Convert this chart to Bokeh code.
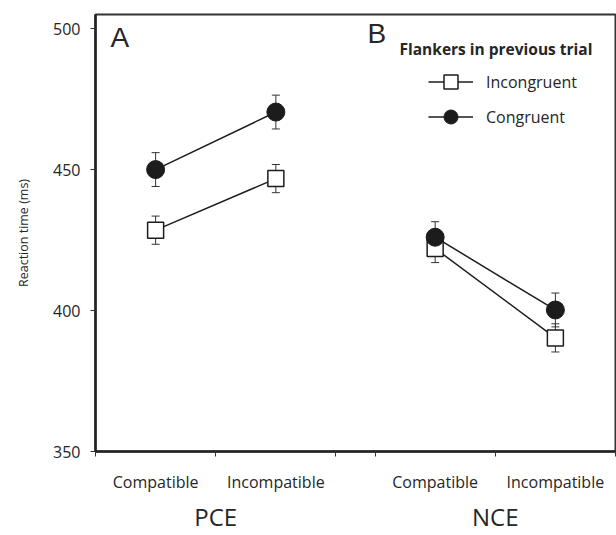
from bokeh.plotting import figure
from bokeh.models import (Range1d, LinearAxis, FixedTicker, Whisker, ColumnDataSource,
                          Legend, LegendItem, Label, TeeHead)
from bokeh.embed import file_html
from bokeh.resources import INLINE

# ---- data ----
groups = ["PCE", "NCE"]
conditions = ["Compatible", "Incompatible"]
incong_rt = [428.5, 446.8, 422.0, 390.3]
incong_se = [5.0, 5.0, 5.0, 5.0]
cong_rt = [450.0, 470.4, 426.0, 400.2]
cong_se = [6.0, 6.0, 5.5, 6.0]
y_ticks = [350, 400, 450, 500]
series_names = ["Incongruent", "Congruent"]

# ---- layout helpers ----
GAP = 0.325
n_c = len(conditions)
def xpos(g, c):
    return g * (n_c + GAP) + c + 0.5

xs = [xpos(g, c) for g in range(len(groups)) for c in range(n_c)]
bounds = []
for g in range(len(groups)):
    start = g * (n_c + GAP)
    bounds += [start + k for k in range(n_c + 1)]
group_centers = [g * (n_c + GAP) + n_c / 2 for g in range(len(groups))]
x_end = len(groups) * n_c + (len(groups) - 1) * GAP

FONT = "Open Sans"
TXT = "#262626"
INK = "#1c1c1c"

p = figure(width=616, height=535, x_range=Range1d(0, x_end), y_range=Range1d(350, 505),
           x_axis_type=None, y_axis_type=None, output_backend="svg", toolbar_location=None,
           min_border_left=95, min_border_top=14, min_border_right=1, min_border_bottom=82)
p.outline_line_color = "#333333"
p.outline_line_width = 2
p.background_fill_color = "white"
p.border_fill_color = "white"

# y axis
yax = LinearAxis(ticker=FixedTicker(ticks=y_ticks), axis_label="Reaction time (ms)")
yax.axis_line_width = 2.5
yax.axis_line_color = "#222222"
yax.major_tick_out = 5
yax.major_tick_in = 0
yax.major_tick_line_color = "#333333"
yax.minor_tick_line_color = None
yax.major_label_text_font = FONT
yax.major_label_text_font_size = "16px"
yax.major_label_text_color = TXT
yax.major_label_standoff = 10
yax.axis_label_text_font = FONT
yax.axis_label_text_font_size = "12.5px"
yax.axis_label_text_font_style = "normal"
yax.axis_label_text_color = TXT
yax.axis_label_standoff = 18
p.add_layout(yax, "left")

# x axis: condition labels, boundary ticks
xax = LinearAxis(ticker=FixedTicker(ticks=xs, minor_ticks=bounds),
                 major_label_overrides={x: conditions[i % n_c] for i, x in enumerate(xs)})
xax.axis_line_width = 2.5
xax.axis_line_color = "#222222"
xax.major_tick_line_color = None
xax.major_tick_out = 5
xax.major_tick_in = 0
xax.minor_tick_line_color = "#333333"
xax.minor_tick_out = 5
xax.minor_tick_in = 0
xax.major_label_text_font = FONT
xax.major_label_text_font_size = "16px"
xax.major_label_text_color = TXT
xax.major_label_standoff = 14
p.add_layout(xax, "below")

# x axis: group labels
gax = LinearAxis(ticker=FixedTicker(ticks=group_centers),
                 major_label_overrides={x: groups[i] for i, x in enumerate(group_centers)})
gax.axis_line_color = None
gax.major_tick_line_color = None
gax.minor_tick_line_color = None
gax.major_tick_out = 0
gax.major_tick_in = 0
gax.major_label_text_font = FONT
gax.major_label_text_font_size = "24px"
gax.major_label_text_color = TXT
gax.major_label_standoff = 4
p.add_layout(gax, "below")

# ---- data glyphs ----
def src_for(vals, ses):
    return ColumnDataSource(dict(x=xs, y=vals,
                                 upper=[v + s for v, s in zip(vals, ses)],
                                 lower=[v - s for v, s in zip(vals, ses)]))

src_inc = src_for(incong_rt, incong_se)
src_con = src_for(cong_rt, cong_se)

for src in (src_inc, src_con):
    w = Whisker(base="x", upper="upper", lower="lower", source=src, dimension="height",
                line_color="#333333", line_width=1,
                upper_head=TeeHead(size=8, line_width=1, line_color="#333333"),
                lower_head=TeeHead(size=8, line_width=1, line_color="#333333"))
    p.add_layout(w)

line_r = {}
for name, vals in (("Incongruent", incong_rt), ("Congruent", cong_rt)):
    rs = []
    for g in range(len(groups)):
        idx = [g * n_c + c for c in range(n_c)]
        r = p.line([xs[i] for i in idx], [vals[i] for i in idx], line_color=INK, line_width=1.5)
        rs.append(r)
    line_r[name] = rs

sq = p.scatter("x", "y", source=src_inc, marker="square", size=16,
               fill_color="white", line_color=INK, line_width=1.5)
ci = p.scatter("x", "y", source=src_con, marker="circle", size=18,
               fill_color=INK, line_color=INK, line_width=1)

legend = Legend(items=[LegendItem(label=series_names[0], renderers=[line_r["Incongruent"][0], sq]),
                       LegendItem(label=series_names[1], renderers=[line_r["Congruent"][0], ci])],
                location=(333, 317))
legend.glyph_width = 45
legend.glyph_height = 35
legend.spacing = 0
legend.padding = 0
legend.margin = 0
legend.label_standoff = 13
legend.label_text_font = FONT
legend.label_text_font_size = "16px"
legend.label_text_color = TXT
legend.border_line_color = None
legend.background_fill_alpha = 0
p.add_layout(legend)

p.add_layout(Label(x=304, y=492.6, x_units="screen", y_units="data",
                   text="Flankers in previous trial", text_font=FONT, text_font_size="15.5px",
                   text_font_style="bold", text_color=TXT, text_baseline="middle"))
p.add_layout(Label(x=15, y=496.8, x_units="screen", y_units="data", text="A",
                   text_font="Liberation Sans", text_font_size="28px", text_color=TXT,
                   text_baseline="middle"))
p.add_layout(Label(x=272, y=498.3, x_units="screen", y_units="data", text="B",
                   text_font="Liberation Sans", text_font_size="28px", text_color=TXT,
                   text_baseline="middle"))

open("out.html", "w").write(file_html(p, INLINE))
